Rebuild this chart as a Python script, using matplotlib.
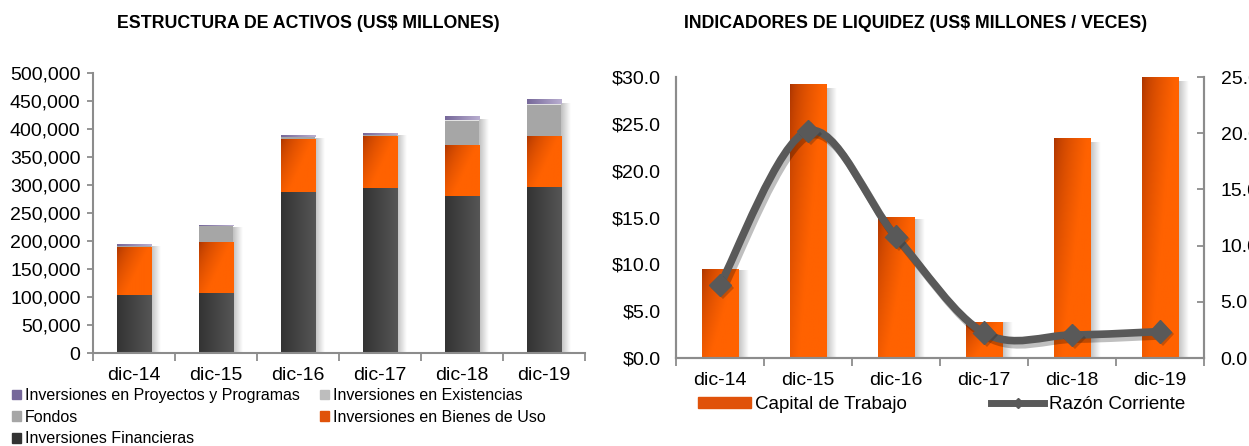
import numpy as np
import matplotlib
matplotlib.use("Agg")
import matplotlib.pyplot as plt
from matplotlib.path import Path
from matplotlib.patches import PathPatch, Patch
from matplotlib.lines import Line2D
from matplotlib.ticker import FuncFormatter, FixedLocator
import matplotlib.patheffects as pe

plt.rcParams["font.family"] = ["Liberation Sans", "DejaVu Sans"]

years = ["dic-14", "dic-15", "dic-16", "dic-17", "dic-18", "dic-19"]

# estructura de activos (US$ millones)
financieras = [103000, 107500, 287000, 294000, 280000, 296000]
bienes_uso = [85500, 91000, 94500, 91500, 90500, 90500]
fondos = [2000, 27500, 3500, 4000, 44500, 57000]
existencias = [500, 500, 500, 500, 1500, 1500]
proyectos = [2000, 1500, 2500, 3500, 7000, 7500]

# indicadores de liquidez
capital_trabajo = [9.5, 29.2, 15.0, 3.8, 23.4, 30.0]
razon_corriente = [6.5, 20.2, 10.8, 2.25, 2.05, 2.35]

ORANGE_D, ORANGE_L = "#a83300", "#ff6200"
DARK_D, DARK_L = "#333333", "#565656"
GRAY = "#a6a6a6"
LIGHT = "#e2e2e2"
PURP_D, PURP_L = "#76689a", "#b9aed0"
LINE = "#595959"
SPINE = "#8c8c8c"
FS = 14


def to_rgb(c):
    return np.array(matplotlib.colors.to_rgb(c))


def grad_fill(ax, bars, c0, c1, mode="diag"):
    c0, c1 = to_rgb(c0), to_rgb(c1)
    X, Y = np.meshgrid(np.linspace(0, 1, 48), np.linspace(0, 1, 48))
    if mode == "diag":
        t = np.clip((X * 1.3 + Y * 0.9) / 1.2, 0, 1) ** 0.6
    else:
        t = X
    img = (1 - t)[..., None] * c0 + t[..., None] * c1
    for b in bars:
        x, y, w, h = b.get_x(), b.get_y(), b.get_width(), b.get_height()
        if h <= 0:
            continue
        ax.imshow(img, extent=[x, x + w, y, y + h], origin="upper",
                  aspect="auto", zorder=2, interpolation="bilinear")
        b.set_facecolor("none")


def shadow(ax, xs, tops, w, sw):
    a = np.linspace(0.45, 0.0, 32)
    img = np.zeros((1, 32, 4))
    img[..., :3] = 0.45
    img[0, :, 3] = a
    for x, t in zip(xs, tops):
        ax.imshow(img, extent=[x + w / 2, x + w / 2 + sw, 0, t * 0.985],
                  aspect="auto", zorder=1, interpolation="bilinear")


def style_x(ax):
    ax.set_xlim(-0.5, 5.5)
    ax.set_xticks(range(6))
    ax.set_xticklabels(years)
    ax.xaxis.set_minor_locator(FixedLocator(np.arange(-0.5, 6.0, 1.0)))
    ax.tick_params(axis="x", which="major", length=0, pad=10, labelsize=FS)
    ax.tick_params(axis="x", which="minor", length=6, width=1.3, color=SPINE)


fig = plt.figure(figsize=(12.49, 4.46), dpi=100)

# ---------- left: estructura de activos ----------
ax1 = fig.add_axes([0.0745, 0.2085, 0.3939, 0.6278])
x = np.arange(6)
bw = 0.42
b_fin = ax1.bar(x, financieras, bw, color=DARK_D, zorder=2)
bot = np.array(financieras, float)
b_bie = ax1.bar(x, bienes_uso, bw, bottom=bot, color=ORANGE_L, zorder=2)
bot += bienes_uso
b_fon = ax1.bar(x, fondos, bw, bottom=bot, color=GRAY, zorder=2)
bot += fondos
b_exi = ax1.bar(x, existencias, bw, bottom=bot, color=LIGHT, zorder=2)
bot += existencias
b_pro = ax1.bar(x, proyectos, bw, bottom=bot, color=PURP_D, zorder=2)
bot += proyectos
grad_fill(ax1, b_fin, DARK_D, DARK_L, "h")
grad_fill(ax1, b_bie, ORANGE_D, ORANGE_L)
grad_fill(ax1, b_pro, PURP_D, PURP_L, "h")
shadow(ax1, x, bot, bw, 0.12)

ax1.set_ylim(0, 500000)
ax1.set_yticks(np.arange(0, 500001, 50000))
ax1.yaxis.set_major_formatter(FuncFormatter(lambda v, p: f"{v:,.0f}"))
ax1.tick_params(axis="y", length=4, width=1.3, color=SPINE, pad=5, labelsize=FS)
style_x(ax1)
for s in ["top", "right"]:
    ax1.spines[s].set_visible(False)
for s in ["left", "bottom"]:
    ax1.spines[s].set_color(SPINE)
    ax1.spines[s].set_linewidth(1.5)

fig.text(0.247, 1 - 23 / 446, "ESTRUCTURA DE ACTIVOS (US$ MILLONES)",
         ha="center", va="center", fontsize=12.8, fontweight="bold")

h1 = [Patch(color=PURP_D), Patch(color=GRAY), Patch(color=DARK_D),
      Patch(color="#bdbdbd"), Patch(color="#e0520a")]
l1 = ["Inversiones en Proyectos y Programas", "Fondos", "Inversiones Financieras",
      "Inversiones en Existencias", "Inversiones en Bienes de Uso"]
fig.legend(h1, l1, ncol=2, loc="upper left", bbox_to_anchor=(12 / 1249, 1 - 388 / 446),
           frameon=False, fontsize=11.5, handlelength=0.55, handleheight=0.55,
           handletextpad=0.25, labelspacing=0.42, columnspacing=1.3,
           borderaxespad=0, borderpad=0)

# ---------- right: indicadores de liquidez ----------
ax2 = fig.add_axes([0.5412, 0.1973, 0.4227, 0.6300])
bw2 = 0.41
b_cap = ax2.bar(x, capital_trabajo, bw2, color=ORANGE_L, zorder=2)
grad_fill(ax2, b_cap, ORANGE_D, ORANGE_L)
shadow(ax2, x, capital_trabajo, bw2, 0.12)
ax2.set_ylim(0, 30)
ax2.set_yticks(np.arange(0, 30.1, 5))
ax2.yaxis.set_major_formatter(FuncFormatter(lambda v, p: f"${v:.1f}"))
ax2.tick_params(axis="y", length=0, pad=11, labelsize=FS)
style_x(ax2)

ax3 = ax2.twinx()
ax3.set_ylim(0, 25)
ax3.set_yticks(np.arange(0, 25.1, 5))
ax3.yaxis.set_major_formatter(FuncFormatter(lambda v, p: f"{v:.1f}"))
ax3.tick_params(axis="y", direction="in", length=5, width=1.3, color=SPINE,
                pad=12, labelsize=FS)

# smooth line (Catmull-Rom -> cubic Bezier)
px = np.array(x, float)
py = np.array(razon_corriente, float)
verts = [(px[0], py[0])]
codes = [Path.MOVETO]
n = len(px)
for i in range(n - 1):
    p0 = np.array([px[max(i - 1, 0)], py[max(i - 1, 0)]])
    p1 = np.array([px[i], py[i]])
    p2 = np.array([px[i + 1], py[i + 1]])
    p3 = np.array([px[min(i + 2, n - 1)], py[min(i + 2, n - 1)]])
    c1 = p1 + (p2 - p0) / 6
    c2 = p2 - (p3 - p1) / 6
    verts += [tuple(c1), tuple(c2), tuple(p2)]
    codes += [Path.CURVE4] * 3
curve = PathPatch(Path(verts, codes), fill=False, edgecolor=LINE, lw=5.5,
                  capstyle="round", joinstyle="round", zorder=4,
                  path_effects=[pe.SimpleLineShadow(offset=(2, -3), alpha=0.25),
                                pe.Normal()])
ax3.add_patch(curve)
ax3.plot(px, py, "D", color=LINE, markersize=11.5, zorder=5,
         path_effects=[pe.SimplePatchShadow(offset=(2, -2), alpha=0.25), pe.Normal()])

for a in (ax2, ax3):
    a.spines["top"].set_visible(False)
    for s in ["left", "right", "bottom"]:
        a.spines[s].set_color(SPINE)
        a.spines[s].set_linewidth(1.5)

fig.text(0.733, 1 - 23 / 446, "INDICADORES DE LIQUIDEZ (US$ MILLONES / VECES)",
         ha="center", va="center", fontsize=12.8, fontweight="bold")

h2 = [Patch(color="#e0520a"),
      Line2D([0], [0], color=LINE, lw=5, marker="D", markersize=5)]
fig.legend(h2, ["Capital de Trabajo", "Razón Corriente"], ncol=2, loc="upper left",
           bbox_to_anchor=(698 / 1249, 1 - 396 / 446), frameon=False, fontsize=13.5,
           handlelength=2.8, handleheight=0.55, handletextpad=0.25, columnspacing=4.5,
           borderaxespad=0, borderpad=0)

fig.savefig("out.png", dpi=100)
